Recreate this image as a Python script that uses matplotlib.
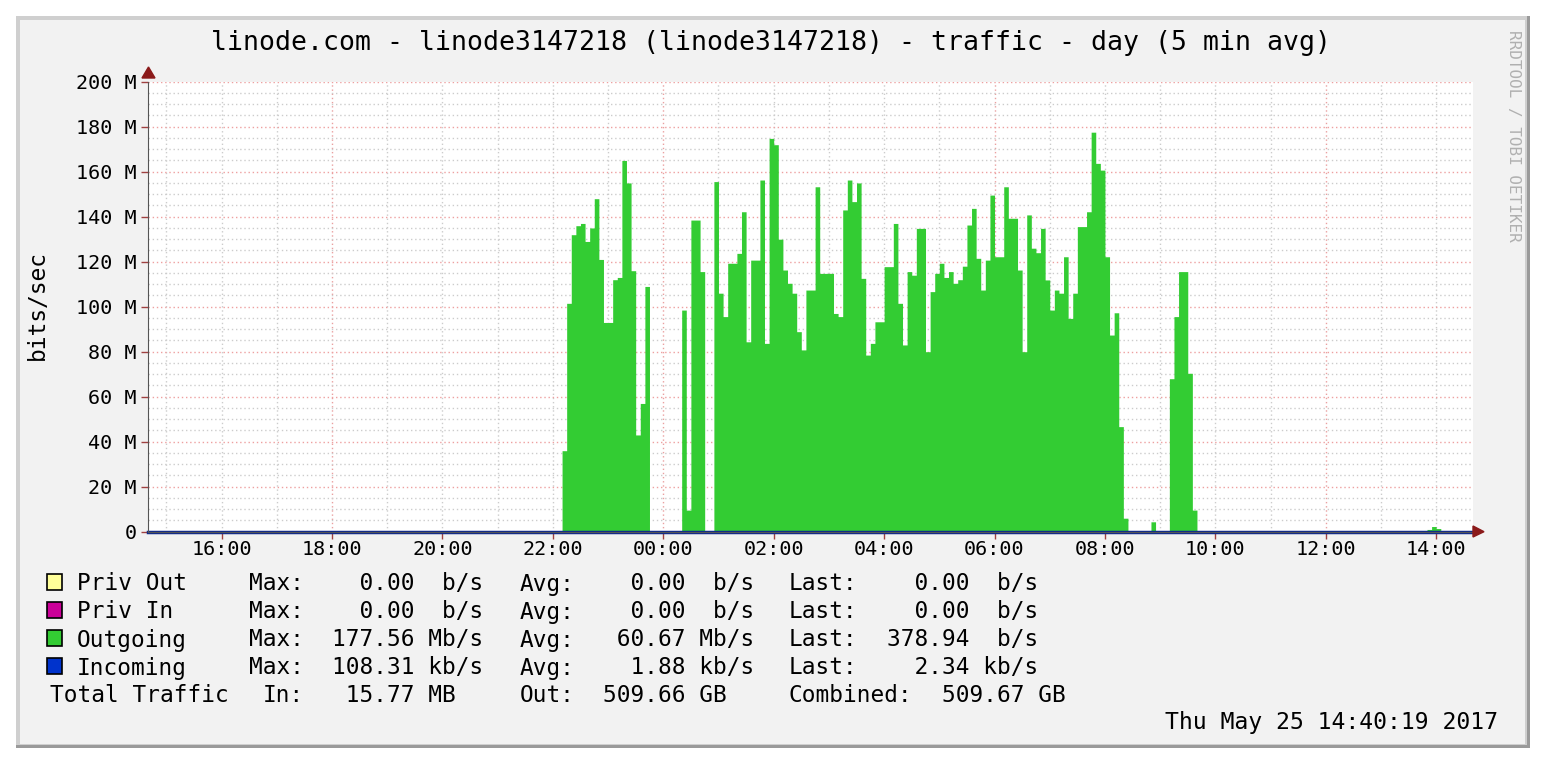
#RRDtool style traffic graph - linode3147218, one day at 5 min resolution
#----------------------------------------------------------------

import numpy as np
import matplotlib.pyplot as plt
from matplotlib.patches import Rectangle

#Time window: 14:40 one day to 14:40 the next (hours, >24 = next day)
start_hour = 14 + 40 / 60
step_hours = 5 / 60
n_samples = 288

#Outgoing traffic in Mb/s, one value per 5 min, starting at 22:10
out_first_hour = 22 + 10 / 60
outgoing_mbps = [
    36, 101.5, 132, 136, 137, 129, 135, 148, 121, 93, 93, 112, 113, 165, 155, 116, 43, 57, 109,
    0, 0, 0, 0, 0, 0, 0,
    98.5, 9.6, 138.5, 138.5, 115.6, 0, 0,
    155.6, 106, 95.6, 119.3, 119.3, 123.7, 142.2, 84.4, 120.7, 120.7, 156.3, 83.7, 174.8, 172,
    130, 116.3, 110.4, 106, 88.9, 80.8, 107.4, 107.4, 153.3, 114.8, 114.8, 114.8, 97, 95.6,
    143, 156.3, 146.7, 155, 112.6, 78.5, 83.7, 93.3, 93.3, 117.8, 117.8, 137, 101.5, 83,
    115.6, 114, 134.8, 134.8, 80, 106.7, 114.8, 119.3, 113, 115.6, 110.4, 112, 118, 136.3,
    143.7, 121.5, 107.4, 120.7, 149.6, 122.2, 122.2, 153.3, 139.3, 139.3, 116.3, 80, 140.8,
    126, 124, 134.8, 111.9, 98.5, 107.4, 106, 122.2, 94.8, 106, 135.6, 135.6, 142.2, 177.56,
    163.7, 160.7, 122.2, 87.4, 97.3, 46.7, 6,
    0, 0, 0, 0, 0, 4.4, 0, 0, 0, 68, 95.6, 115.6, 115.6, 70.4, 9.6,
]
#Small blip just before 14:00
blip_first_hour = 24 + 13 + 50 / 60
blip_mbps = [1.0, 2.3, 1.4]

incoming_avg_kbps = 1.88

#Legend table
legend_names = ['Priv Out', 'Priv In', 'Outgoing', 'Incoming']
legend_colors = ['#ffff99', '#cc0099', '#33cc33', '#0033cc']
max_vals = ['  0.00  b/s', '  0.00  b/s', '177.56 Mb/s', '108.31 kb/s']
avg_vals = ['  0.00  b/s', '  0.00  b/s', ' 60.67 Mb/s', '  1.88 kb/s']
last_vals = ['  0.00  b/s', '  0.00  b/s', '378.94  b/s', '  2.34 kb/s']

#Build the full series from the read values
t = start_hour + np.arange(n_samples + 1) * step_hours
outgoing = np.zeros(n_samples + 1)
i0 = int(round((out_first_hour - start_hour) / step_hours))
outgoing[i0:i0 + len(outgoing_mbps)] = outgoing_mbps
j0 = int(round((blip_first_hour - start_hour) / step_hours))
outgoing[j0:j0 + len(blip_mbps)] = blip_mbps

W, H = 1556, 764
fig = plt.figure(figsize=(W / 100, H / 100), dpi=100)
fig.patch.set_facecolor('white')
mono = 'DejaVu Sans Mono'
fs = 16.4

def fx(x):
    return x / W

def fy(y):
    return 1 - y / H

#Canvas with a bevelled frame (behind the axes)
fig.patches.append(Rectangle((fx(16), fy(748)), fx(1514), 732 / H, transform=fig.transFigure,
                             facecolor='#9a9a9a', edgecolor='none', zorder=-10))
fig.patches.append(Rectangle((fx(16), fy(745)), fx(1511), 729 / H, transform=fig.transFigure,
                             facecolor='#cfcfcf', edgecolor='none', zorder=-9))
fig.patches.append(Rectangle((fx(20), fy(744)), fx(1505), 724 / H, transform=fig.transFigure,
                             facecolor='#f2f2f2', edgecolor='none', zorder=-8))

ax = fig.add_axes([fx(148), fy(531.7), fx(1473 - 148), (531.7 - 81.7) / H])
ax.set_zorder(1)
ax.set_facecolor('white')

ax.fill_between(t, outgoing, step='post', color='#33cc33', linewidth=0, zorder=3)
ax.plot([t[0], t[-1]], [incoming_avg_kbps / 1000] * 2, color='#102a8a', linewidth=2.5,
        zorder=4, clip_on=False)

ax.set_xlim(start_hour, start_hour + n_samples * step_hours)
ax.set_ylim(0, 200)

#Grid: grey every hour / 5M, red every 6 hours / 20M
for h in np.arange(15, 39):
    c = '#eaa0a0' if h % 6 == 0 else '#cccccc'
    ax.axvline(h, color=c, linestyle=(0, (1, 2)), linewidth=1, zorder=1)
for v in np.arange(5, 201, 5):
    c = '#eea0a0' if v % 20 == 0 else '#cccccc'
    ax.axhline(v, color=c, linestyle=(0, (1, 2)), linewidth=1, zorder=1)

ax.set_xticks(np.arange(16, 39, 2))
ax.set_xticklabels(['%02d:00' % (h % 24) for h in range(16, 39, 2)], fontfamily=mono, fontsize=14.5)
ax.set_yticks(np.arange(0, 201, 20))
ax.set_yticklabels(['0'] + ['%d M' % v for v in range(20, 201, 20)], fontfamily=mono, fontsize=14.5)
ax.tick_params(axis='both', length=5, color='#a04040', width=1)
ax.tick_params(axis='y', pad=3)
ax.tick_params(axis='x', pad=1)

for s in ['top', 'right']:
    ax.spines[s].set_visible(False)
ax.spines['left'].set_color('#555555')
ax.spines['bottom'].set_color('#555555')
ax.spines['left'].set_zorder(5)
ax.spines['bottom'].set_zorder(5)

#Axis arrows
fig.patches.append(plt.Polygon([(fx(142), fy(78)), (fx(155), fy(78)), (fx(148.5), fy(67))],
                               closed=True, transform=fig.transFigure, color='#8b1a1a', zorder=5))
fig.patches.append(plt.Polygon([(fx(1473), fy(526)), (fx(1473), fy(537)), (fx(1484), fy(531.7))],
                               closed=True, transform=fig.transFigure, color='#8b1a1a', zorder=5))

#Texts
fig.text(fx(771), fy(43), 'linode.com - linode3147218 (linode3147218) - traffic - day (5 min avg)',
         ha='center', va='center', fontfamily=mono, fontsize=19.1)
fig.text(fx(37), fy(305), 'bits/sec', rotation=90, ha='center', va='center',
         fontfamily=mono, fontsize=16.5)
fig.text(fx(1513), fy(136), 'RRDTOOL / TOBI OETIKER', rotation=270, ha='center', va='center',
         fontfamily=mono, fontsize=11.5, color='#b0b0b0')

row_y = [584, 612, 640, 668]
for name, col, mx, av, la, y in zip(legend_names, legend_colors, max_vals, avg_vals, last_vals, row_y):
    fig.patches.append(Rectangle((fx(47), fy(y + 6)), fx(15), 16 / H, transform=fig.transFigure,
                                 facecolor=col, edgecolor='black', linewidth=1.2))
    fig.text(fx(77), fy(y), name, va='center', fontfamily=mono, fontsize=fs)
    fig.text(fx(249), fy(y), 'Max:', va='center', fontfamily=mono, fontsize=fs)
    fig.text(fx(332), fy(y), mx, va='center', fontfamily=mono, fontsize=fs)
    fig.text(fx(520), fy(y), 'Avg:', va='center', fontfamily=mono, fontsize=fs)
    fig.text(fx(603), fy(y), av, va='center', fontfamily=mono, fontsize=fs)
    fig.text(fx(789), fy(y), 'Last:', va='center', fontfamily=mono, fontsize=fs)
    fig.text(fx(887), fy(y), la, va='center', fontfamily=mono, fontsize=fs)

y = 696
fig.text(fx(50), fy(y), 'Total Traffic', va='center', fontfamily=mono, fontsize=fs)
fig.text(fx(263), fy(y), 'In:', va='center', fontfamily=mono, fontsize=fs)
fig.text(fx(332), fy(y), ' 15.77 MB', va='center', fontfamily=mono, fontsize=fs)
fig.text(fx(520), fy(y), 'Out:', va='center', fontfamily=mono, fontsize=fs)
fig.text(fx(603), fy(y), '509.66 GB', va='center', fontfamily=mono, fontsize=fs)
fig.text(fx(789), fy(y), 'Combined:', va='center', fontfamily=mono, fontsize=fs)
fig.text(fx(942), fy(y), '509.67 GB', va='center', fontfamily=mono, fontsize=fs)

fig.text(fx(1498), fy(723), 'Thu May 25 14:40:19 2017', ha='right', va='center',
         fontfamily=mono, fontsize=16.7)

fig.savefig('out.png', dpi=100)
